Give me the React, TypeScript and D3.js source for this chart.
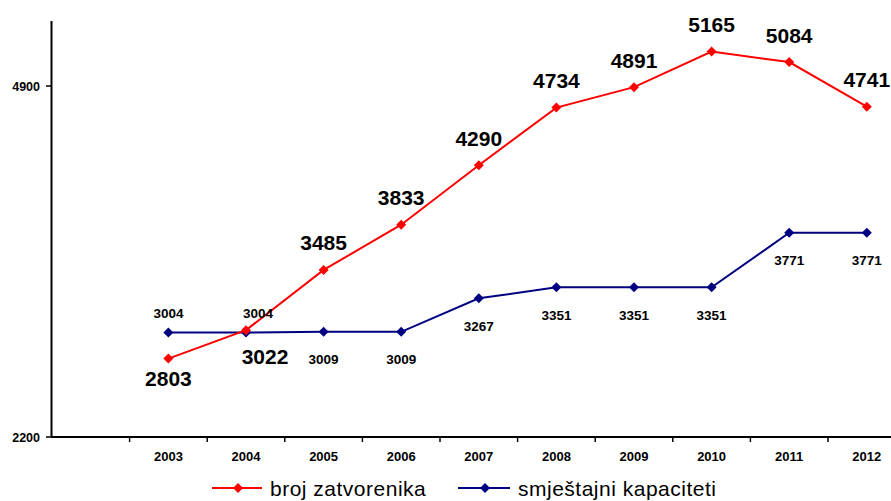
import React from "react";
import * as d3 from "d3";

const categories = ["", "2003", "2004", "2005", "2006", "2007", "2008", "2009", "2010", "2011", "2012"];
const years = ["2003", "2004", "2005", "2006", "2007", "2008", "2009", "2010", "2011", "2012"];
const prisoners = [2803, 3022, 3485, 3833, 4290, 4734, 4891, 5165, 5084, 4741];
const capacity = [3004, 3004, 3009, 3009, 3267, 3351, 3351, 3351, 3771, 3771];
const yTicks = [2200, 4900];
const seriesNames = ["broj zatvorenika", "smještajni kapaciteti"];

const W = 891;
const H = 501;
const FONT = "'Liberation Sans', Arial, sans-serif";

export default function App() {
  const x = d3.scaleBand<string>().domain(categories).range([52, 52 + 11 * 77.6]).paddingInner(0).paddingOuter(0);
  const y = d3.scaleLinear().domain([2200, 5400]).range([437, 21]);
  const cx = (c: string) => (x(c) as number) + x.bandwidth() / 2;

  const line = d3
    .line<number>()
    .x((_, i) => cx(years[i]))
    .y((d) => y(d));

  const diamond = (px: number, py: number, r: number) =>
    `M${px},${py - r}L${px + r},${py}L${px},${py + r}L${px - r},${py}Z`;

  const RED = "#ff0000";
  const BLUE = "#000080";

  // label placement (rendering only)
  const redPlace = ["below", "below2", "above", "above", "above", "above", "above", "above", "above", "above"];
  const bluePlace = ["above", "above2", "below", "below", "below", "below", "below", "below", "below", "below"];

  return (
    <svg width={W} height={H} style={{ position: "absolute", left: 0, top: 0, background: "#fff" }}>
      {/* axes */}
      <line x1={51.5} x2={51.5} y1={21} y2={437} stroke="#000" strokeWidth={2} />
      <line x1={51} x2={W} y1={437} y2={437} stroke="#000" strokeWidth={2} />
      {yTicks.map((t) => (
        <g key={t}>
          <line x1={46} x2={51} y1={y(t)} y2={y(t)} stroke="#000" strokeWidth={1.5} />
          <text x={40} y={y(t) + 4.5} textAnchor="end" fontFamily={FONT} fontWeight="bold" fontSize={12.5} fill="#000">
            {t}
          </text>
        </g>
      ))}
      {categories.slice(1).map((c) => (
        <line key={c} x1={x(c) as number} x2={x(c) as number} y1={437} y2={442} stroke="#000" strokeWidth={1.5} />
      ))}
      {years.map((c) => (
        <text key={c} x={cx(c)} y={460.5} textAnchor="middle" fontFamily={FONT} fontWeight="bold" fontSize={13} fill="#000">
          {c}
        </text>
      ))}

      {/* blue series */}
      <path d={line(capacity) as string} fill="none" stroke={BLUE} strokeWidth={2} />
      {capacity.map((v, i) => (
        <path key={i} d={diamond(cx(years[i]), y(v), 5)} fill={BLUE} />
      ))}
      {/* red series */}
      <path d={line(prisoners) as string} fill="none" stroke={RED} strokeWidth={2} />
      {prisoners.map((v, i) => (
        <path key={i} d={diamond(cx(years[i]), y(v), 5)} fill={RED} />
      ))}

      {/* blue labels */}
      {capacity.map((v, i) => {
        const p = bluePlace[i];
        const px = cx(years[i]) + (p === "above2" ? 12 : 0);
        const py = p.startsWith("above") ? y(v) - 14 : y(v) + 32.5;
        return (
          <text key={i} x={px} y={py} textAnchor="middle" fontFamily={FONT} fontWeight="bold" fontSize={13.5} fill="#000">
            {v}
          </text>
        );
      })}
      {/* red labels */}
      {prisoners.map((v, i) => {
        const p = redPlace[i];
        const px = cx(years[i]) + (p === "below2" ? 19 : 0);
        const py = p === "above" ? y(v) - 19.5 : p === "below" ? y(v) + 27 : y(v) + 34;
        return (
          <text key={i} x={px} y={py} textAnchor="middle" fontFamily={FONT} fontWeight="bold" fontSize={21} fill="#000">
            {v}
          </text>
        );
      })}

      {/* legend */}
      <g>
        <line x1={212} x2={262} y1={488} y2={488} stroke={RED} strokeWidth={2} />
        <path d={diamond(238, 488, 5)} fill={RED} />
        <text x={270} y={496} fontFamily={FONT} fontSize={21} letterSpacing={0.5} fill="#000">
          {seriesNames[0]}
        </text>
        <line x1={458} x2={510} y1={488} y2={488} stroke={BLUE} strokeWidth={2} />
        <path d={diamond(485, 488, 5)} fill={BLUE} />
        <text x={518} y={496} fontFamily={FONT} fontSize={21} letterSpacing={0.5} fill="#000">
          {seriesNames[1]}
        </text>
      </g>
    </svg>
  );
}
